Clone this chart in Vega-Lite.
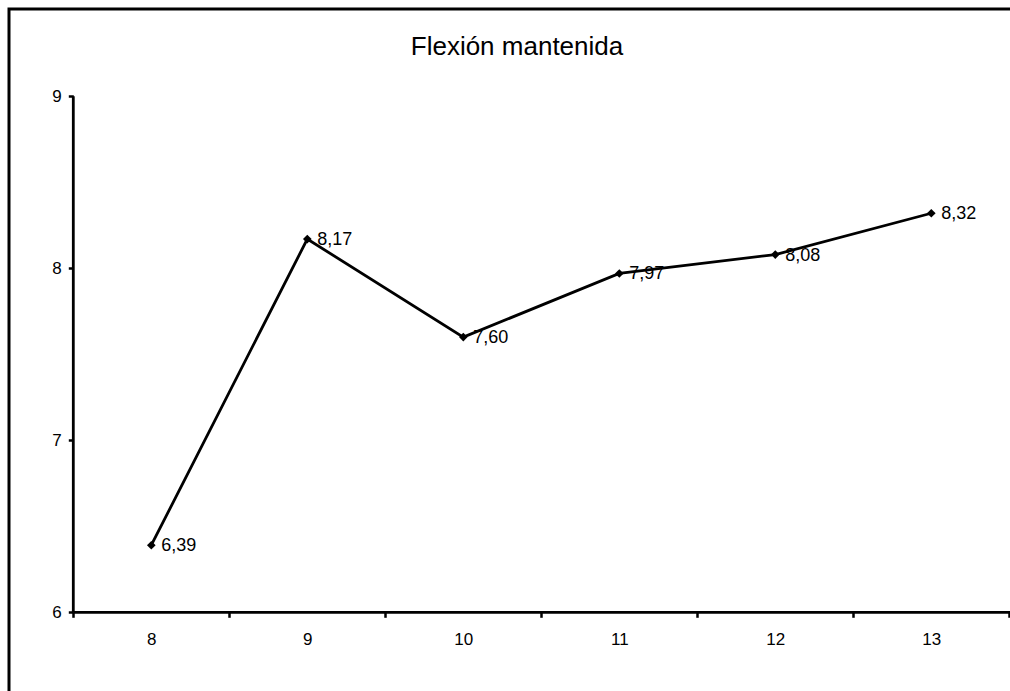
{
  "$schema": "https://vega.github.io/schema/vega-lite/v6.json",
  "width": 1010,
  "height": 700,
  "autosize": "none",
  "padding": {"left": 9, "top": 9, "right": 0, "bottom": 0},
  "background": "white",
  "config": {
    "locale": {"number": {"decimal": ",", "thousands": ".", "grouping": [3], "currency": ["", " €"]}},
    "view": {"stroke": "black", "strokeWidth": 3},
    "font": "Liberation Sans",
    "axis": {
      "domain": false,
      "grid": false,
      "tickColor": "black",
      "tickWidth": 2.5,
      "tickSize": 5,
      "labelColor": "black",
      "labelFont": "Liberation Sans",
      "labelFontSize": 17,
      "title": null
    }
  },
  "title": {
    "text": "Flexión mantenida",
    "font": "Liberation Sans",
    "fontSize": 26,
    "fontWeight": "normal",
    "color": "black",
    "anchor": "middle",
    "frame": "group",
    "baseline": "alphabetic",
    "offset": -72,
    "dx": 3
  },
  "datasets": {
    "serie": [
      {"edad": 8, "valor": 6.39},
      {"edad": 9, "valor": 8.17},
      {"edad": 10, "valor": 7.60},
      {"edad": 11, "valor": 7.97},
      {"edad": 12, "valor": 8.08},
      {"edad": 13, "valor": 8.32}
    ],
    "ejes": [
      {"edad": 7.5, "edad2": 7.5, "valor": 6, "valor2": 9},
      {"edad": 7.5, "edad2": 13.6, "valor": 6, "valor2": 6}
    ]
  },
  "encoding": {
    "x": {
      "field": "edad",
      "type": "quantitative",
      "scale": {"domain": [7.0878, 13.5622], "nice": false, "zero": false},
      "axis": {
        "orient": "bottom",
        "offset": -96.7,
        "values": [7.5, 8, 8.5, 9, 9.5, 10, 10.5, 11, 11.5, 12, 12.5, 13, 13.5],
        "labelExpr": "datum.value % 1 === 0 ? format(datum.value, 'd') : ''",
        "tickOpacity": {"condition": {"test": "datum.value % 1 === 0", "value": 0}, "value": 1},
        "labelOverlap": false,
        "labelFlush": false,
        "labelPadding": 14
      }
    },
    "y": {
      "field": "valor",
      "type": "quantitative",
      "scale": {"domain": [5.4378, 9.5076], "nice": false, "zero": false},
      "axis": {
        "orient": "left",
        "offset": -64.3,
        "values": [6, 7, 8, 9],
        "format": "d",
        "labelPadding": 7
      }
    }
  },
  "layer": [
    {
      "data": {"name": "ejes"},
      "mark": {"type": "rule", "color": "black", "strokeWidth": 2.8},
      "encoding": {
        "x2": {"field": "edad2"},
        "y2": {"field": "valor2"}
      }
    },
    {
      "data": {"name": "serie"},
      "mark": {"type": "line", "color": "black", "strokeWidth": 2.8}
    },
    {
      "data": {"name": "serie"},
      "mark": {"type": "point", "shape": "diamond", "filled": true, "color": "black", "opacity": 1, "size": 75}
    },
    {
      "data": {"name": "serie"},
      "mark": {"type": "text", "align": "left", "baseline": "middle", "dx": 10, "dy": 1, "fontSize": 18, "color": "black", "font": "Liberation Sans"},
      "encoding": {
        "text": {"field": "valor", "type": "quantitative", "format": ".2f"}
      }
    }
  ]
}
